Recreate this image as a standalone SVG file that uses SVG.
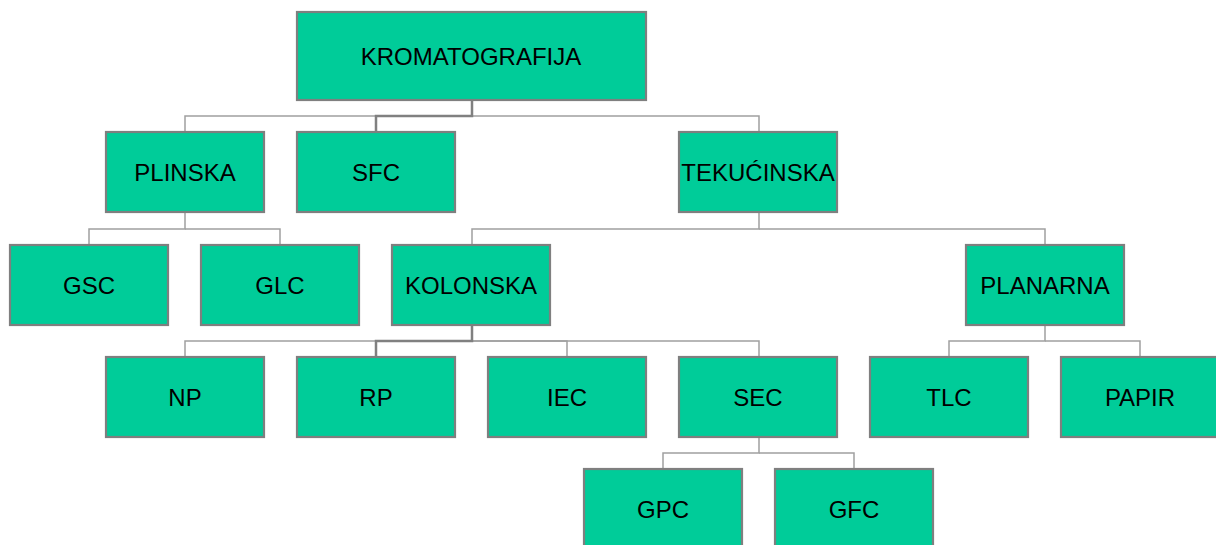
<svg xmlns="http://www.w3.org/2000/svg" width="1216" height="545" viewBox="0 0 1216 545">
<style>
.box{fill:#00CC99;stroke:#7F7F7F;stroke-width:2.2}
.lbl{font-family:"Liberation Sans",Arial,sans-serif;font-size:24px;fill:#000;text-anchor:middle}
.c{fill:none;stroke:#A0A0A0;stroke-width:1.5}
.cs{fill:none;stroke:#808080;stroke-width:2.5}
</style>
<rect width="1216" height="545" fill="#fff"/>
<g id="connectors">
<path class="c" d="M472 100V116H185V132"/>
<path class="c" d="M472 116H759V132"/>
<path class="cs" d="M472 100V116H376V132"/>
<path class="c" d="M185 212V229H89V245"/>
<path class="c" d="M185 229H280V245"/>
<path class="c" d="M759 212V229H472V245"/>
<path class="c" d="M759 229H1045V245"/>
<path class="c" d="M472 325V341H185V357"/>
<path class="c" d="M472 341H567V357"/>
<path class="c" d="M472 341H759V357"/>
<path class="cs" d="M472 325V341H376V357"/>
<path class="c" d="M1045 325V341H949V357"/>
<path class="c" d="M1045 341H1140V357"/>
<path class="c" d="M759 437V453H663V469"/>
<path class="c" d="M759 453H854V469"/>
</g>
<g id="n-kromatografija"><rect class="box" x="297" y="12" width="349" height="88"/><text class="lbl" x="471" y="65">KROMATOGRAFIJA</text></g>
<g id="n-plinska"><rect class="box" x="106" y="132" width="158" height="80"/><text class="lbl" x="185" y="181">PLINSKA</text></g>
<g id="n-sfc"><rect class="box" x="297" y="132" width="158" height="80"/><text class="lbl" x="376" y="181">SFC</text></g>
<g id="n-tekucinska"><rect class="box" x="679" y="132" width="158" height="80"/><text class="lbl" x="758" y="181">TEKUĆINSKA</text></g>
<g id="n-gsc"><rect class="box" x="10" y="245" width="158" height="80"/><text class="lbl" x="89" y="294">GSC</text></g>
<g id="n-glc"><rect class="box" x="201" y="245" width="158" height="80"/><text class="lbl" x="280" y="294">GLC</text></g>
<g id="n-kolonska"><rect class="box" x="392" y="245" width="158" height="80"/><text class="lbl" x="471" y="294">KOLONSKA</text></g>
<g id="n-planarna"><rect class="box" x="966" y="245" width="158" height="80"/><text class="lbl" x="1045" y="294">PLANARNA</text></g>
<g id="n-np"><rect class="box" x="106" y="357" width="158" height="80"/><text class="lbl" x="185" y="406">NP</text></g>
<g id="n-rp"><rect class="box" x="297" y="357" width="158" height="80"/><text class="lbl" x="376" y="406">RP</text></g>
<g id="n-iec"><rect class="box" x="488" y="357" width="158" height="80"/><text class="lbl" x="567" y="406">IEC</text></g>
<g id="n-sec"><rect class="box" x="679" y="357" width="158" height="80"/><text class="lbl" x="758" y="406">SEC</text></g>
<g id="n-tlc"><rect class="box" x="870" y="357" width="158" height="80"/><text class="lbl" x="949" y="406">TLC</text></g>
<g id="n-papir"><rect class="box" x="1061" y="357" width="158" height="80"/><text class="lbl" x="1140" y="406">PAPIR</text></g>
<g id="n-gpc"><rect class="box" x="584" y="469" width="158" height="80"/><text class="lbl" x="663" y="518">GPC</text></g>
<g id="n-gfc"><rect class="box" x="775" y="469" width="158" height="80"/><text class="lbl" x="854" y="518">GFC</text></g>
</svg>
